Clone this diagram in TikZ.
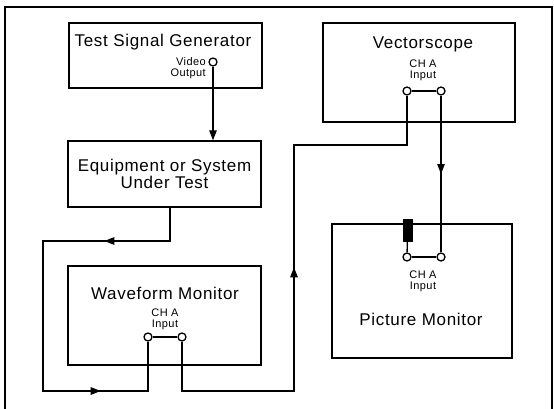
\documentclass[tikz,border=0pt]{standalone}
\usepackage{fontspec}
\setmainfont{Liberation Sans}[LetterSpace=4]
\usetikzlibrary{positioning, arrows.meta, decorations.markings}

\begin{document}
\begin{tikzpicture}[
    x=1pt, y=-1pt,
    every node/.style={font=\fontsize{17}{15}\selectfont},
    unit/.style={
        draw,
        line width=1.3pt,
        inner sep=0pt,
        align=center,
    },
    port/.style={
        circle,
        draw,
        fill=white,
        line width=1.3pt,
        inner sep=0pt,
        minimum size=8pt,
    },
    portlabel/.style={
        font=\fontsize{11}{11}\selectfont,
        align=center,
        inner sep=0pt,
    },
    wire/.style={
        line width=1.3pt,
    },
    tip/.style={
        -{Triangle[length=10pt, width=7.5pt]},
    },
    arrowat/.style={
        postaction={decorate, decoration={markings,
            mark=at position #1 with {\arrow{Triangle[length=10pt, width=7.5pt]}}}},
    },
]
\useasboundingbox (0,0) rectangle (554,409);

% ===== Marco =====
\draw[line width=1.5pt] (5,409) -- (5,7) -- (552,7) -- (552,409);

% ===== Generador =====
\node[unit, minimum width=193pt, minimum height=65pt] (gen) at (165.5,55.5) {};
\node (gentitle) at (163,42) {Test Signal Generator};
\node[portlabel, align=right, anchor=east] (genlabel) at (206,68) {Video\\Output};
\node[port] (genout) at (213,62) {};

% ===== Vectorscopio =====
\node[unit, minimum width=192pt, minimum height=99pt] (vec) at (419,72.5) {};
\node (vectitle) at (423,44) {Vectorscope};
\node[portlabel] (veclabel) at (423,70) {CH A\\Input};
\node[port] (vecA1) at (407,91) {};
\node[port] (vecA2) at (441,91) {};

% ===== Equipo bajo prueba =====
\node[unit, minimum width=193pt, minimum height=66pt] (eut) at (164.5,174) {Equipment or System\\Under Test};

% ===== Monitor de forma de onda =====
\node[unit, minimum width=193pt, minimum height=99pt] (wfm) at (164.5,315.5) {};
\node (wfmtitle) at (165,293) {Waveform Monitor};
\node[portlabel] (wfmlabel) at (165,319) {CH A\\Input};
\node[port] (wfmA1) at (148,337) {};
\node[port] (wfmA2) at (182,337) {};

% ===== Monitor de imagen =====
\node[unit, minimum width=180pt, minimum height=134pt] (pic) at (422,291) {};
\node[port] (picA1) at (407,257) {};
\node[port] (picA2) at (441,257) {};
\node[portlabel] (piclabel) at (423,281) {CH A\\Input};
\node (pictitle) at (421,319) {Picture Monitor};
\node[draw, fill=black, inner sep=0pt, minimum width=9pt, minimum height=22pt] (term) at (407.5,230) {};

% ===== Puentes entre entradas =====
\draw[wire] (vecA1) -- (vecA2);
\draw[wire] (wfmA1) -- (wfmA2);
\draw[wire] (picA1) -- (picA2);
\draw[wire] (term) -- (picA1);

% ===== Conexiones =====
\coordinate (eutout) at ([xshift=5.5pt]eut.south);
\coordinate (loopA) at (43,241);
\coordinate (loopB) at (43,391);
\coordinate (riseB) at (294,391);
\coordinate (riseT) at (294,145);

\draw[wire, tip] (genout) -- (genout |- eut.north);
\draw[wire, arrowat=99pt, arrowat=368pt] (eutout) |- (loopA) -- (loopB) -| (wfmA1);
\draw[wire, arrowat=285pt] (wfmA2) |- (riseB) -- (riseT) -| (vecA1);
\draw[wire, arrowat=0.5] (vecA2) -- (picA2);

\end{tikzpicture}
\end{document}
